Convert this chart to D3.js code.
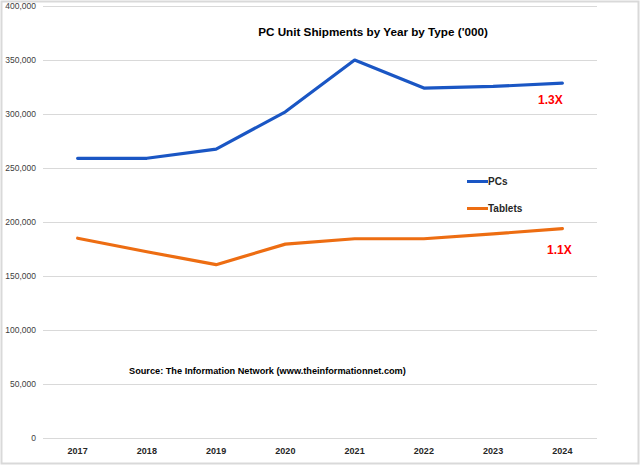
<!DOCTYPE html>
<html>
<head>
<meta charset="utf-8">
<script src="https://cdn.jsdelivr.net/npm/d3@7"></script>
<style>
	body { margin: 0; background: #fff; }
	svg { display: block; font-family: "Liberation Sans", Arial, sans-serif; }
</style>
</head>
<body>
<div id="chartContainer"></div>
<script>
// data ('000 units)
const years = ["2017", "2018", "2019", "2020", "2021", "2022", "2023", "2024"];
const pcValues = [259000, 259000, 267500, 302000, 350000, 324000, 325500, 328500];
const tabletValues = [185000, 172500, 160500, 179500, 184500, 184500, 189000, 193800];
const seriesNames = ["PCs", "Tablets"];
const multiples = ["1.3X", "1.1X"];
const yTicks = [0, 50000, 100000, 150000, 200000, 250000, 300000, 350000, 400000];

function initializeLineChart(){

	let svg = d3.select("#chartContainer")
		.append("svg")
		.attr("width", 640)
		.attr("height", 465);

	// outer frame
	svg.append("rect")
		.attr("x", 1.5).attr("y", 1.5)
		.attr("width", 637).attr("height", 462)
		.attr("fill", "#fff")
		.attr("stroke", "#d9d9d9")
		.attr("stroke-width", 2);

	let xScale = d3.scaleBand()
		.domain(years)
		.range([43, 597]);

	let yScale = d3.scaleLinear()
		.domain([0, 400000])
		.range([438, 6]);

	// gridlines + y labels
	let yAxis = svg.append("g")
		.attr("transform", "translate(43, 0)")
		.call(d3.axisLeft(yScale)
			.tickValues(yTicks)
			.tickSize(-554)
			.tickPadding(7)
			.tickFormat(d3.format(",")));
	yAxis.select(".domain").remove();
	yAxis.selectAll("line").attr("stroke", "#d9d9d9").attr("stroke-width", 1);
	yAxis.selectAll("text")
		.attr("fill", "#404040")
		.style("font-size", "8.5px")
		.style("font-family", "'Liberation Sans', Arial, sans-serif");

	let xAxis = svg.append("g")
		.attr("transform", "translate(0, 438)")
		.call(d3.axisBottom(xScale).tickSize(0).tickPadding(10));
	xAxis.select(".domain").remove();
	xAxis.selectAll("text")
		.attr("fill", "#262626")
		.style("font-size", "9px")
		.style("font-weight", "bold")
		.style("font-family", "'Liberation Sans', Arial, sans-serif");

	let line = d3.line()
		.x((d, i) => xScale(years[i]) + xScale.bandwidth() / 2)
		.y(d => yScale(d));

	let series = [
		{ name: seriesNames[0], values: pcValues, color: "#1a56c4" },
		{ name: seriesNames[1], values: tabletValues, color: "#ed6d12" }
	];

	svg.selectAll(".series")
		.data(series)
		.enter()
		.append("path")
		.attr("class", "series")
		.attr("d", d => line(d.values))
		.attr("fill", "none")
		.attr("stroke", d => d.color)
		.attr("stroke-width", 3.2)
		.attr("stroke-linejoin", "round")
		.attr("stroke-linecap", "round");

	// legend
	let legend = svg.selectAll(".legend")
		.data(series)
		.enter()
		.append("g")
		.attr("class", "legend")
		.attr("transform", (d, i) => "translate(467," + (181.5 + i * 27) + ")");
	legend.append("line")
		.attr("x1", 0).attr("x2", 21)
		.attr("stroke", d => d.color)
		.attr("stroke-width", 3);
	legend.append("text")
		.attr("x", 21)
		.attr("y", 3.5)
		.attr("fill", "#262626")
		.style("font-size", "10px")
		.style("font-weight", "bold")
		.text(d => d.name);

	// growth labels
	svg.append("text")
		.attr("x", 538).attr("y", 104)
		.attr("fill", "#ff0000")
		.style("font-size", "12px")
		.style("font-weight", "bold")
		.text(multiples[0]);
	svg.append("text")
		.attr("x", 547).attr("y", 254)
		.attr("fill", "#ff0000")
		.style("font-size", "12px")
		.style("font-weight", "bold")
		.text(multiples[1]);

	svg.append("text")
		.attr("x", 373).attr("y", 36)
		.attr("text-anchor", "middle")
		.attr("fill", "#000")
		.style("font-size", "11.7px")
		.style("font-weight", "bold")
		.text("PC Unit Shipments by Year by Type ('000)");

	svg.append("text")
		.attr("x", 129).attr("y", 374)
		.attr("fill", "#000")
		.style("font-size", "9.2px")
		.style("font-weight", "bold")
		.text("Source: The Information Network (www.theinformationnet.com)");
}

initializeLineChart();
</script>
</body>
</html>
